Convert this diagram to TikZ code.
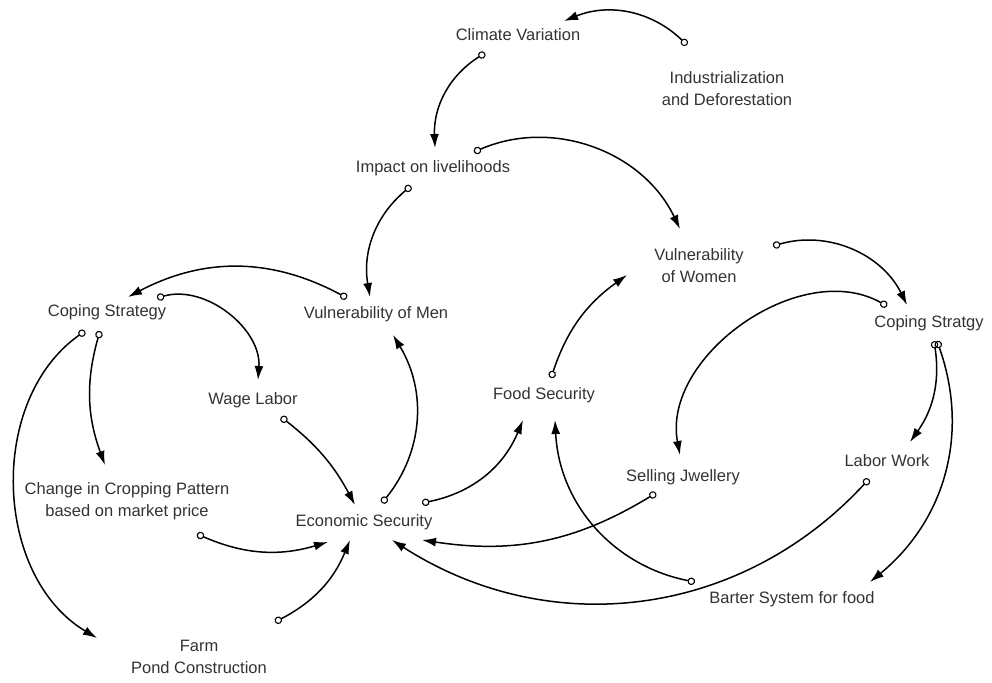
\documentclass[tikz,border=0pt]{standalone}
\usepackage{fontspec}
\setmainfont{Liberation Sans}
\usepackage{tikz}
\usetikzlibrary{arrows.meta}

\begin{document}
\begin{tikzpicture}[x=1pt,y=1pt,
   var/.style={font=\fontsize{16.5}{22}\selectfont, text=black!80, align=center, inner sep=0pt},
   link/.style={line width=1.5pt, {Circle[open,length=7.5pt,width=7.5pt,line width=1.1pt]}-{Latex[length=14pt,width=9pt]}}]
   \useasboundingbox (0,0) rectangle (992,-682);

   % variables
   \node[var] (cv)  at (518,-35)  {Climate Variation};
   \node[var] (ind) at (727,-89)  {Industrialization\\and Deforestation};
   \node[var] (imp) at (433,-168) {Impact on livelihoods};
   \node[var] (vw)  at (699,-266) {Vulnerability\\of Women};
   \node[var] (vm)  at (376,-314) {Vulnerability of Men};
   \node[var] (csl) at (107,-312) {Coping Strategy};
   \node[var] (csr) at (929,-323) {Coping Stratgy};
   \node[var] (wl)  at (253,-400) {Wage Labor};
   \node[var] (fs)  at (544,-395) {Food Security};
   \node[var] (sj)  at (683,-477) {Selling Jwellery};
   \node[var] (lw)  at (887,-461) {Labor Work};
   \node[var] (ccp) at (127,-501) {Change in Cropping Pattern\\based on market price};
   \node[var] (es)  at (364,-522) {Economic Security};
   \node[var] (fp)  at (199,-657) {Farm\\Pond Construction};
   \node[var] (bs)  at (792,-599) {Barter System for food};

   % causal links
   \draw[link] ([shift={(-40,44)}]ind.center) to[bend right=33] ([shift={(46,14)}]cv.center);
   \draw[link] ([shift={(-33,-18)}]cv.center) to[bend right=30] ([shift={(2,20)}]imp.center);
   \draw[link] ([shift={(41,16)}]imp.center)  to[bend left=44]  ([shift={(-19,37)}]vw.center);
   \draw[link] ([shift={(-22,-18)}]imp.center) to[bend right=30] ([shift={(-6,17)}]vm.center);
   \draw[link] ([shift={(-29,16)}]vm.center)  to[bend right=28] ([shift={(21,15)}]csl.center);
   \draw[link] ([shift={(50,14)}]csl.center)  to[bend left=55]  ([shift={(5,20)}]wl.center);
   \draw[link] ([shift={(-7,-19)}]csl.center) to[bend right=18] ([shift={(-22,36)}]ccp.center);
   \draw[link] ([shift={(-22,-19)}]csl.center) to[bend right=57] ([shift={(-102,19)}]fp.center);
   \draw[link] ([shift={(28,-17)}]wl.center)  to[bend left=12]  ([shift={(-9,17)}]es.center);
   \draw[link] ([shift={(18,19)}]es.center)   to[bend right=35] ([shift={(17,-21)}]vm.center);
   \draw[link] ([shift={(58,19)}]es.center)   to[bend right=28] ([shift={(-21,-25)}]fs.center);
   \draw[link] ([shift={(7,17)}]fs.center)    to[bend left=18]  ([shift={(-72,-9)}]vw.center);
   \draw[link] ([shift={(74,20)}]vw.center)   to[bend left=40]  ([shift={(-22,18)}]csr.center);
   \draw[link] ([shift={(-42,17)}]csr.center) to[bend right=65] ([shift={(-3,22)}]sj.center);
   \draw[link] ([shift={(5,-18)}]csr.center)  to[bend left=22]  ([shift={(23,19)}]lw.center);
   \draw[link] ([shift={(8,-18)}]csr.center)  to[bend left=35]  ([shift={(78,17)}]bs.center);
   \draw[link] ([shift={(-27,-16)}]sj.center) to[bend left=20]  ([shift={(58,-18)}]es.center);
   \draw[link] ([shift={(-18,-18)}]lw.center) to[bend left=40]  ([shift={(28,-18)}]es.center);
   \draw[link] ([shift={(-97,17)}]bs.center)  to[bend left=38]  ([shift={(11,-25)}]fs.center);
   \draw[link] ([shift={(70,-33)}]ccp.center) to[bend right=20] ([shift={(-36,-20)}]es.center);
   \draw[link] ([shift={(76,35)}]fp.center)   to[bend right=20] ([shift={(-14,-18)}]es.center);
\end{tikzpicture}
\end{document}
